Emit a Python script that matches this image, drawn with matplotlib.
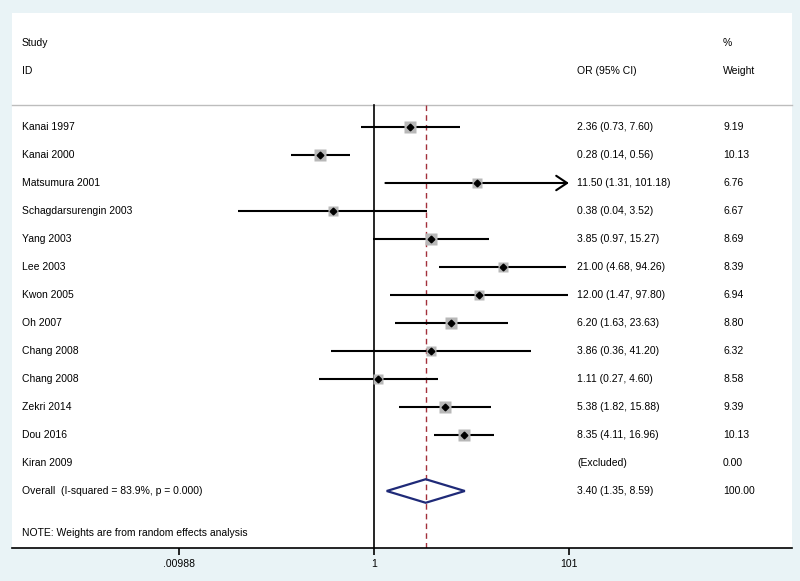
import numpy as np
import matplotlib
matplotlib.use("Agg")
import matplotlib.pyplot as plt
from matplotlib.patches import Polygon
from matplotlib.transforms import blended_transform_factory

plt.rcParams["font.family"] = ["Liberation Sans", "DejaVu Sans"]

# dados do forest plot
studies = ["Kanai 1997", "Kanai 2000", "Matsumura 2001", "Schagdarsurengin 2003",
           "Yang 2003", "Lee 2003", "Kwon 2005", "Oh 2007", "Chang 2008",
           "Chang 2008", "Zekri 2014", "Dou 2016", "Kiran 2009"]
odds = [2.36, 0.28, 11.50, 0.38, 3.85, 21.00, 12.00, 6.20, 3.86, 1.11, 5.38, 8.35, None]
lower = [0.73, 0.14, 1.31, 0.04, 0.97, 4.68, 1.47, 1.63, 0.36, 0.27, 1.82, 4.11, None]
upper = [7.60, 0.56, 101.18, 3.52, 15.27, 94.26, 97.80, 23.63, 41.20, 4.60, 15.88, 16.96, None]
weights = [9.19, 10.13, 6.76, 6.67, 8.69, 8.39, 6.94, 8.80, 6.32, 8.58, 9.39, 10.13, 0.00]
overall = (3.40, 1.35, 8.59)
tick_vals = [0.00988, 1, 101]
tick_labels = [".00988", "1", "101"]

W, H = 800, 581
bg = "#e9f3f6"
fig = plt.figure(figsize=(W / 100, H / 100), dpi=100, facecolor=bg)

# painel branco: x 12..792 px, y 13..548 px
left, right, top, bottom = 12, 792, 13, 548
ax = fig.add_axes([left / W, 1 - bottom / H, (right - left) / W, (bottom - top) / H])
ax.set_facecolor("white")
ax.set_xscale("log")
ppd = 97.25  # pixels por década
x1 = 374
ax.set_xlim(10 ** ((left - x1) / ppd), 10 ** ((right - x1) / ppd))
row_px = 28.0
y0 = 127
ax.set_ylim((bottom - y0) / row_px, (top - y0) / row_px)

for s in ["top", "right", "left"]:
    ax.spines[s].set_visible(False)
ax.spines["bottom"].set_linewidth(1.2)
ax.set_yticks([])
ax.set_xticks(tick_vals)
ax.set_xticklabels(tick_labels)
ax.minorticks_off()
ax.tick_params(axis="x", direction="out", length=5, width=1.2, labelsize=7.5, pad=3)

fs = 7.5
tr = blended_transform_factory(ax.transAxes, ax.transData)
tx_study = (22 - left) / (right - left)
tx_or = (577 - left) / (right - left)
tx_w = (723 - left) / (right - left)

# cabeçalho
ax.text(tx_study, -3, "Study", transform=tr, fontsize=fs, va="center")
ax.text(tx_study, -2, "ID", transform=tr, fontsize=fs, va="center")
ax.text(tx_or, -2, "OR (95% CI)", transform=tr, fontsize=fs, va="center")
ax.text(tx_w, -3, "%", transform=tr, fontsize=fs, va="center")
ax.text(tx_w, -2, "Weight", transform=tr, fontsize=fs, va="center")
sep_y = -0.8
ax.plot([0, 1], [sep_y, sep_y], transform=tr, color="#bdbdbd", lw=1, clip_on=False)

ymax_line = (bottom - y0) / row_px
ax.plot([1, 1], [sep_y, ymax_line], color="black", lw=1.2)
ax.plot([overall[0], overall[0]], [sep_y, ymax_line], color="#a3303b", lw=1,
        ls=(0, (4, 3)))

xmax_clip = 101
for i, name in enumerate(studies):
    ax.text(tx_study, i, name, transform=tr, fontsize=fs, va="center")
    ax.text(tx_w, i, f"{weights[i]:.2f}", transform=tr, fontsize=fs, va="center")
    if odds[i] is None:
        ax.text(tx_or, i, "(Excluded)", transform=tr, fontsize=fs, va="center")
        continue
    ax.text(tx_or, i, f"{odds[i]:.2f} ({lower[i]:.2f}, {upper[i]:.2f})", transform=tr,
            fontsize=fs, va="center")
    hi = min(upper[i], xmax_clip)
    if upper[i] > xmax_clip:
        ax.annotate("", xy=(hi, i), xytext=(lower[i], i),
                    arrowprops=dict(arrowstyle="->,head_length=0.6,head_width=0.4",
                                    color="black", lw=1.5,
                                    mutation_scale=13, shrinkA=0, shrinkB=0))
    else:
        ax.plot([lower[i], hi], [i, i], color="black", lw=1.5, solid_capstyle="butt")
    sq = np.sqrt(weights[i]) * 2.7
    ax.plot(odds[i], i, marker="s", ms=sq, color="#b8b8b8", mec="none", zorder=3)
    ax.plot(odds[i], i, marker="D", ms=3.4, color="black", zorder=4)

# diamante do efeito geral
yo = len(studies)
ax.text(tx_study, yo, "Overall  (I-squared = 83.9%, p = 0.000)", transform=tr,
        fontsize=fs, va="center")
ax.text(tx_or, yo, f"{overall[0]:.2f} ({overall[1]:.2f}, {overall[2]:.2f})",
        transform=tr, fontsize=fs, va="center")
ax.text(tx_w, yo, "100.00", transform=tr, fontsize=fs, va="center")
dh = 0.42
diamond = Polygon([(overall[1], yo), (overall[0], yo - dh), (overall[2], yo),
                   (overall[0], yo + dh)], closed=True, fill=False,
                  edgecolor="#1f2a78", lw=1.6, zorder=5)
ax.add_patch(diamond)

ax.text(tx_study, yo + 1.5, "NOTE: Weights are from random effects analysis",
        transform=tr, fontsize=fs, va="center")

fig.savefig("out.png", dpi=100, facecolor=bg)
